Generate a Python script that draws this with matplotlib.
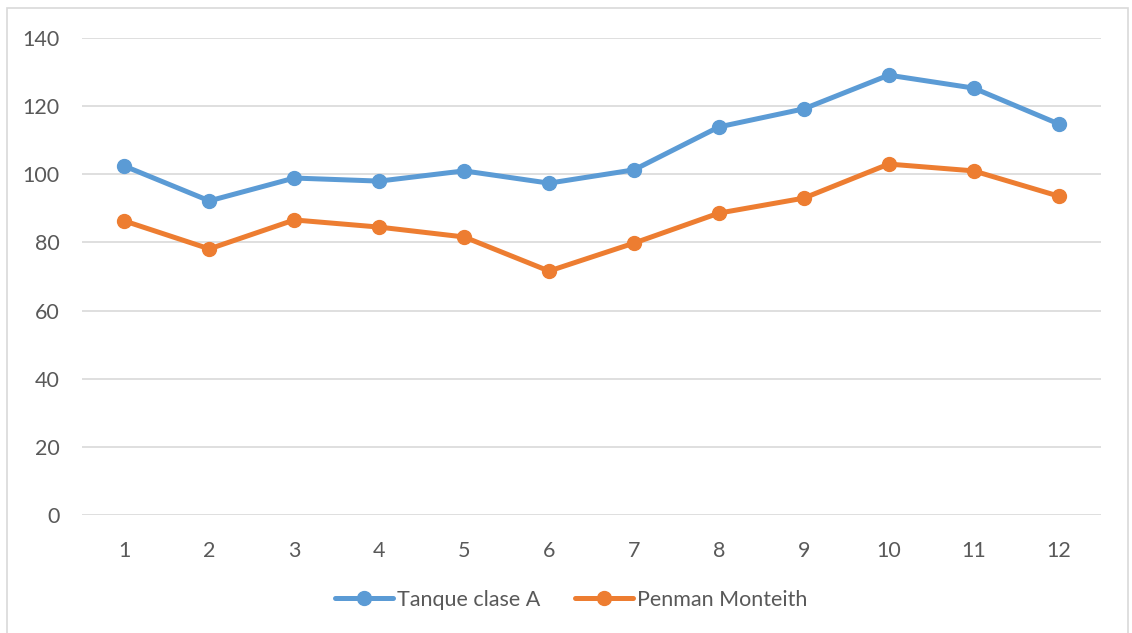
import matplotlib.pyplot as plt
from matplotlib.patches import Rectangle

# months 1..12
meses = [1, 2, 3, 4, 5, 6, 7, 8, 9, 10, 11, 12]
tanque = [102.4, 92.2, 98.9, 98.0, 101.0, 97.4, 101.3, 113.9, 119.2, 129.1, 125.3, 114.8]
penman = [86.3, 78.1, 86.6, 84.5, 81.6, 71.6, 79.8, 88.6, 93.0, 103.0, 101.0, 93.6]
yticks = [0, 20, 40, 60, 80, 100, 120, 140]

plt.rcParams['font.family'] = ['Lato', 'DejaVu Sans']
txt = '#595959'

fig = plt.figure(figsize=(11.32, 6.33), dpi=100)
ax = fig.add_axes([82/1132, 1-515/633, 1019/1132, 477/633])

# outer chart border
fig.patches.append(Rectangle((7/1132, -0.01), 1121/1132, 1-8/633+0.01,
                             transform=fig.transFigure, fill=False,
                             edgecolor='#d9d9d9', linewidth=1.2))

ax.plot(meses, tanque, color='#5B9BD5', lw=3.6, marker='o', ms=10,
        label='Tanque clase A', solid_capstyle='round')
ax.plot(meses, penman, color='#ED7D31', lw=3.6, marker='o', ms=10,
        label='Penman Monteith', solid_capstyle='round')

ax.set_xlim(0.5, 12.5)
ax.set_ylim(0, 140)
ax.set_yticks(yticks)
ax.set_xticks(meses)
ax.grid(axis='y', color='#d9d9d9', lw=1.2)
ax.set_axisbelow(True)
for s in ax.spines.values():
    s.set_visible(False)
ax.tick_params(length=0, labelsize=15.5, colors=txt)
ax.tick_params(axis='y', pad=16)
ax.tick_params(axis='x', pad=19)

leg = fig.legend(loc='center', bbox_to_anchor=(571/1132, 1-600/633), ncol=2,
                 frameon=False, fontsize=15.5, handlelength=2.7, handletextpad=0.2,
                 columnspacing=1.6)
for t in leg.get_texts():
    t.set_color(txt)

fig.savefig('out.png', dpi=100)
